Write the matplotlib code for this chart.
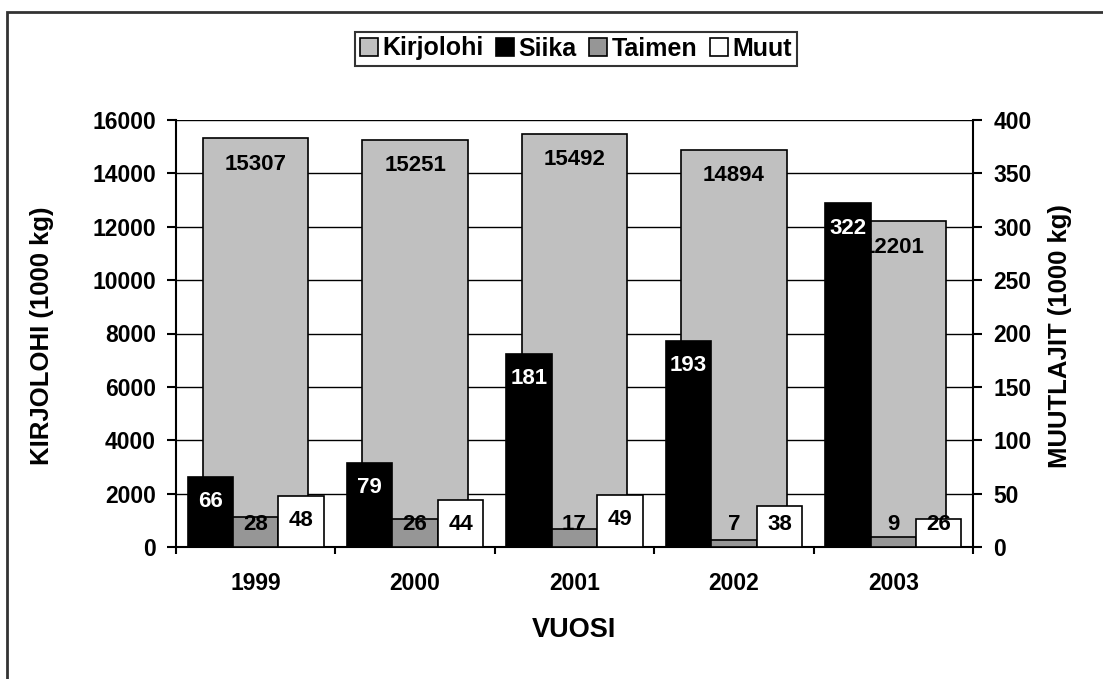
import matplotlib
matplotlib.use("Agg")
import matplotlib.pyplot as plt
from matplotlib.patches import Rectangle, Patch
import numpy as np

years = ["1999", "2000", "2001", "2002", "2003"]
kirjolohi = [15307, 15251, 15492, 14894, 12201]
siika = [66, 79, 181, 193, 322]
taimen = [28, 26, 17, 7, 9]
muut = [48, 44, 49, 38, 26]

plt.rcParams['font.family'] = ['Liberation Sans', 'DejaVu Sans']
plt.rcParams['font.weight'] = 'bold'
FS_TICK = 16.5
FS_LAB = 16
FS_TITLE = 18.5
FS_LEG = 18

W, H = 1103, 679
fig = plt.figure(figsize=(W / 100, H / 100), dpi=100)
fig.patch.set_facecolor('white')
# outer frame
fig.add_artist(Rectangle((7 / W, -0.05), 1.2, 1 - 12 / H + 0.05, transform=fig.transFigure,
                         fill=False, edgecolor='#333333', linewidth=2))

left, right, bottom, top = 176 / W, 973 / W, 1 - 547 / H, 1 - 120 / H
ax1 = fig.add_axes([left, bottom, right - left, top - bottom])
ax2 = ax1.twinx()

x = np.arange(len(years))
ax1.set_xlim(-0.5, len(years) - 0.5)
ax1.set_ylim(0, 16000)
ax2.set_ylim(0, 400)

ax1.set_yticks(np.arange(0, 16001, 2000))
ax2.set_yticks(np.arange(0, 401, 50))
for yv in np.arange(2000, 16001, 2000):
    ax1.axhline(yv, color='black', linewidth=1.0, zorder=0)

kw = 0.66
ax1.bar(x, kirjolohi, width=kw, color='#C0C0C0', edgecolor='black', linewidth=1.2, zorder=2)
px_k = 16000 / 427
for xi, v in zip(x, kirjolohi):
    ax1.text(xi, v - 26 * px_k, str(v), ha='center', va='center', fontsize=FS_LAB,
             fontweight='bold', color='black', zorder=3)

bw = 0.285
px_s = 400 / 427
ax2.bar(x - bw, siika, width=bw, color='black', edgecolor='black', linewidth=1.2, zorder=2)
ax2.bar(x, taimen, width=bw, color='#969696', edgecolor='black', linewidth=1.2, zorder=2)
ax2.bar(x + bw, muut, width=bw, color='white', edgecolor='black', linewidth=1.2, zorder=2)

def lab_y(v):
    return max(v - 25 * px_s, 23 * px_s)

for xi, v in zip(x, siika):
    ax2.text(xi - bw, lab_y(v), str(v), ha='center', va='center', fontsize=FS_LAB,
             fontweight='bold', color='white', zorder=4)
for xi, v in zip(x, taimen):
    ax2.text(xi, lab_y(v), str(v), ha='center', va='center', fontsize=FS_LAB,
             fontweight='bold', color='black', zorder=4)
for xi, v in zip(x, muut):
    ax2.text(xi + bw, lab_y(v), str(v), ha='center', va='center', fontsize=FS_LAB,
             fontweight='bold', color='black', zorder=4)

# x ticks at category boundaries, labels at centers
ax1.set_xticks(np.arange(-0.5, len(years), 1.0))
ax1.set_xticklabels([])
ax1.set_xticks(x, minor=True)
ax1.set_xticklabels(years, minor=True)
ax1.tick_params(axis='x', which='major', direction='out', length=5, width=1.5)
ax1.tick_params(axis='x', which='minor', length=0, pad=18, labelsize=FS_TICK)
ax1.tick_params(axis='y', direction='out', length=6.5, width=1.5, pad=8, labelsize=FS_TICK)
ax2.tick_params(axis='y', direction='out', length=6.5, width=1.5, pad=8, labelsize=FS_TICK)

for ax in (ax1, ax2):
    for s in ax.spines.values():
        s.set_linewidth(1.5)
    ax.spines['top'].set_visible(False)
ax1.spines['right'].set_visible(False)
ax2.spines['left'].set_visible(False)
ax2.spines['bottom'].set_visible(False)
ax1.set_facecolor('white')

fig.text(42 / W, 1 - 336 / H, "KIRJOLOHI (1000 kg)", rotation=90, ha='center', va='center',
         fontsize=FS_TITLE, fontweight='bold')
fig.text(1060 / W, 1 - 336 / H, "MUUTLAJIT (1000 kg)", rotation=90, ha='center', va='center',
         fontsize=FS_TITLE, fontweight='bold')
fig.text(574 / W, 1 - 630 / H, "VUOSI", ha='center', va='center',
         fontsize=19.5, fontweight='bold')

handles = [Patch(facecolor='#C0C0C0', edgecolor='black', linewidth=1.2),
           Patch(facecolor='black', edgecolor='black', linewidth=1.2),
           Patch(facecolor='#969696', edgecolor='black', linewidth=1.2),
           Patch(facecolor='white', edgecolor='black', linewidth=1.2)]
leg = fig.legend(handles, ["Kirjolohi", "Siika", "Taimen", "Muut"], loc='center',
                 bbox_to_anchor=(576 / W, 1 - 48.5 / H), ncol=4,
                 prop={'weight': 'bold', 'size': FS_LEG},
                 handlelength=0.7, handleheight=0.7, handletextpad=0.2,
                 columnspacing=0.5, borderpad=0.2, frameon=True, fancybox=False,
                 borderaxespad=0)
leg.get_frame().set_edgecolor('black')
leg.get_frame().set_linewidth(1.5)

fig.savefig("out.png", dpi=100, facecolor='white')
